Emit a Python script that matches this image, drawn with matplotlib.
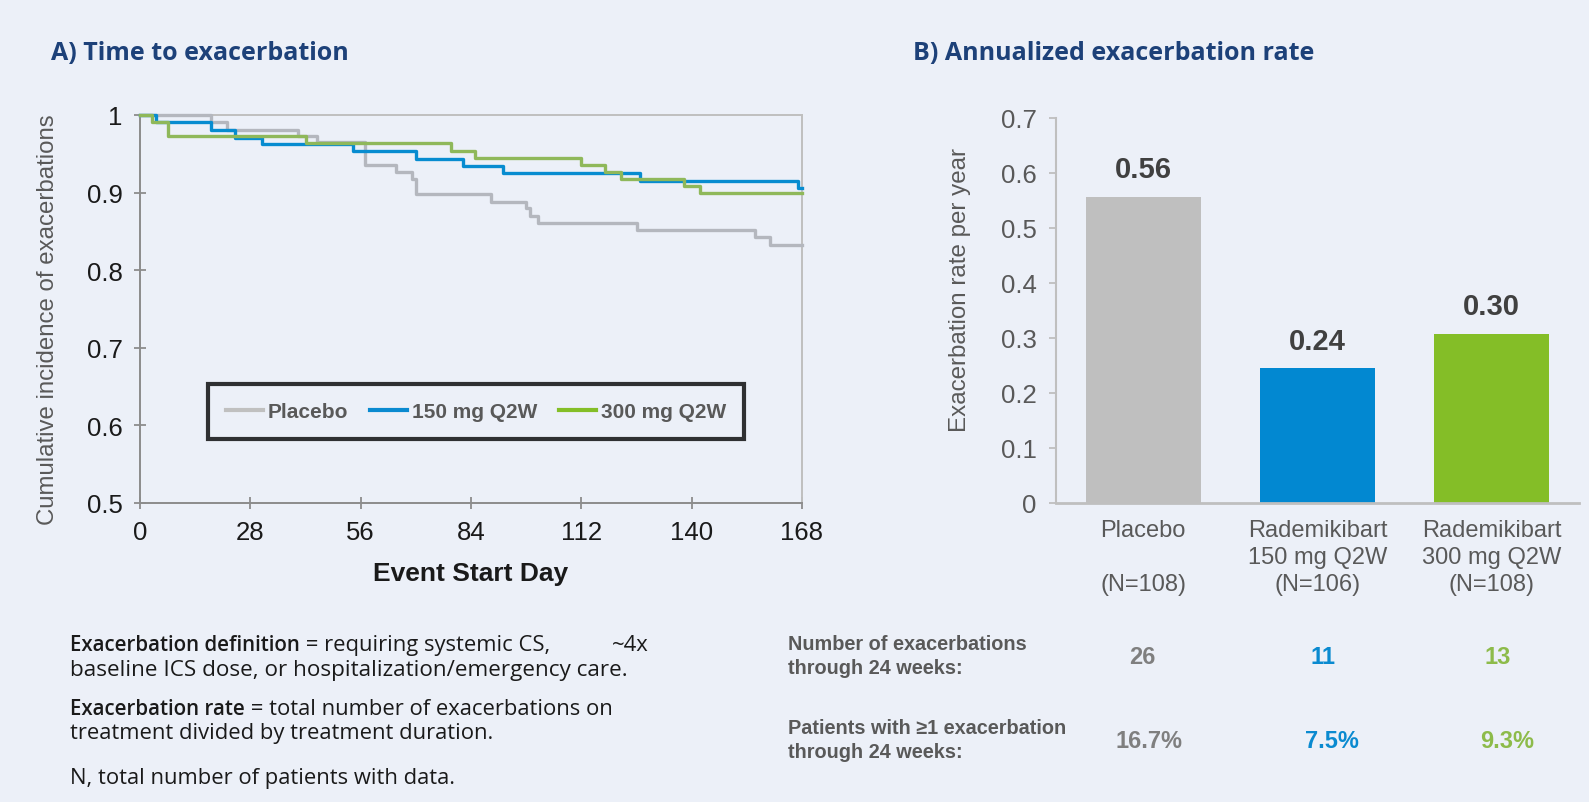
import matplotlib
matplotlib.use("Agg")
import matplotlib.pyplot as plt
from matplotlib.lines import Line2D

# ---------------- data ----------------
km_days_placebo = [0, 18, 22, 40, 45, 57, 65, 69, 70, 89, 98, 99, 101, 126, 156, 160, 168]
km_surv_placebo = [1.0, 0.991, 0.981, 0.973, 0.965, 0.935, 0.926, 0.918, 0.898, 0.888,
                   0.880, 0.870, 0.861, 0.852, 0.843, 0.833, 0.833]
km_days_150 = [0, 4, 18, 24, 31, 54, 70, 82, 92, 127, 167, 168]
km_surv_150 = [1.0, 0.991, 0.981, 0.971, 0.962, 0.953, 0.943, 0.934, 0.925, 0.915, 0.906, 0.906]
km_days_300 = [0, 3, 7, 42, 79, 85, 112, 118, 122, 138, 142, 168]
km_surv_300 = [1.0, 0.991, 0.973, 0.964, 0.954, 0.945, 0.936, 0.926, 0.917, 0.908, 0.899, 0.899]

km_series = ["Placebo", "150 mg Q2W", "300 mg Q2W"]
x_ticks = [0, 28, 56, 84, 112, 140, 168]
y_ticks = [0.5, 0.6, 0.7, 0.8, 0.9, 1.0]
y_tick_labels = ["0.5", "0.6", "0.7", "0.8", "0.9", "1"]

bar_categories = ["Placebo\n\n(N=108)", "Rademikibart\n150 mg Q2W\n(N=106)", "Rademikibart\n300 mg Q2W\n(N=108)"]
bar_rates = [0.556, 0.244, 0.307]
bar_rate_labels = ["0.56", "0.24", "0.30"]
bar_y_ticks = [0, 0.1, 0.2, 0.3, 0.4, 0.5, 0.6, 0.7]
bar_y_tick_labels = ["0", "0.1", "0.2", "0.3", "0.4", "0.5", "0.6", "0.7"]

n_exacerbations = [26, 11, 13]
pct_patients = [16.7, 7.5, 9.3]

# ---------------- style ----------------
W, H = 1589, 803
BG = "#ECF0F8"
KM_COLORS = ["#B4B7BE", "#078CD0", "#8FB85A"]
LEG_COLORS = ["#C0C0C0", "#0A8AD0", "#84BE27"]
BAR_COLORS = ["#BFBFBF", "#0288D1", "#84BE27"]
TABLE_COLORS = ["#7F7F7F", "#0A8AD0", "#8DBB4A"]
TITLE_BLUE = "#1D4179"
GRAY_TXT = "#595959"
ARIAL = "Liberation Sans"
POP = "Open Sans"

fig = plt.figure(figsize=(W / 100, H / 100), dpi=100)
fig.patch.set_facecolor(BG)


def fx(x):
    return x / W


def fy(y):
    return 1 - y / H


# ---------------- A) KM plot ----------------
ax1 = fig.add_axes([fx(140), fy(504), 662 / W, 388 / H])
ax1.set_facecolor(BG)
for days, surv, c in zip([km_days_placebo, km_days_150, km_days_300],
                         [km_surv_placebo, km_surv_150, km_surv_300], KM_COLORS):
    ax1.step(days, surv, where="post", color=c, lw=2.4, clip_on=False, zorder=3)
ax1.set_xlim(0, 168)
ax1.set_ylim(0.5, 1.0)
ax1.set_xticks(x_ticks)
ax1.set_xticklabels([str(t) for t in x_ticks])
ax1.set_yticks(y_ticks)
ax1.set_yticklabels(y_tick_labels)
for s in ["left", "bottom"]:
    ax1.spines[s].set_color("#8C8C8C")
    ax1.spines[s].set_linewidth(1.4)
for s in ["top", "right"]:
    ax1.spines[s].set_color("#BFBFBF")
    ax1.spines[s].set_linewidth(1.4)
ax1.tick_params(direction="inout", length=9, width=1.3, color="#8C8C8C",
                labelsize=18.5, labelcolor="#1A1A1A", pad=8)
for lab in ax1.get_xticklabels() + ax1.get_yticklabels():
    lab.set_fontfamily(ARIAL)

handles = [Line2D([0], [0], color=c, lw=3) for c in LEG_COLORS]
leg = ax1.legend(handles, km_series, loc="center", bbox_to_anchor=(0.5076, 0.236),
                 ncol=3, frameon=True, fancybox=False, handlelength=1.75,
                 handletextpad=0.25, columnspacing=1.05, borderpad=0.85,
                 prop={"family": ARIAL, "weight": "bold", "size": 15})
leg.get_frame().set_edgecolor("black")
leg.get_frame().set_linewidth(3)
leg.get_frame().set_facecolor(BG)
for t in leg.get_texts():
    t.set_color(GRAY_TXT)

fig.text(fx(471), fy(574), "Event Start Day", ha="center", va="center",
         fontsize=19, fontweight="bold", family=ARIAL, color="#1A1A1A")
fig.text(fx(48), fy(320), "Cumulative incidence of exacerbations", rotation=90,
         ha="center", va="center", fontsize=17.3, family=ARIAL, color=GRAY_TXT)

# ---------------- B) bar chart ----------------
ax2 = fig.add_axes([fx(1056), fy(503.5), 523 / W, 384.5 / H])
ax2.set_facecolor(BG)
xs = list(range(len(bar_rates)))
bars = ax2.bar(xs, bar_rates, width=0.66, color=BAR_COLORS, zorder=2)
ax2.set_xlim(-0.5, 2.5)
ax2.set_ylim(0, 0.7)
ax2.set_yticks(bar_y_ticks)
ax2.set_yticklabels(bar_y_tick_labels)
ax2.set_xticks(xs)
ax2.set_xticklabels(bar_categories, linespacing=1.3)
for s in ["top", "right"]:
    ax2.spines[s].set_visible(False)
ax2.spines["left"].set_color("#BFBFBF")
ax2.spines["left"].set_linewidth(1.5)
ax2.spines["bottom"].set_color("#BFBFBF")
ax2.spines["bottom"].set_linewidth(2)
ax2.tick_params(axis="y", direction="out", length=5, width=1.3, color="#BFBFBF",
                labelsize=18.5, labelcolor=GRAY_TXT, pad=9)
ax2.tick_params(axis="x", length=0, labelsize=17, labelcolor=GRAY_TXT, pad=12)
for lab in ax2.get_xticklabels() + ax2.get_yticklabels():
    lab.set_fontfamily(ARIAL)
for x, v, lab in zip(xs, bar_rates, bar_rate_labels):
    ax2.annotate(lab, (x, v), xytext=(0, 20), textcoords="offset points",
                 ha="center", va="center", fontsize=21, fontweight="bold",
                 family=ARIAL, color="#404040")
fig.text(fx(960), fy(290), "Exacerbation rate per year", rotation=90,
         ha="center", va="center", fontsize=17.4, family=ARIAL, color=GRAY_TXT)

# ---------------- titles ----------------
fig.text(fx(51), fy(53), "A) Time to exacerbation", ha="left", va="center",
         fontsize=18, fontweight="bold", family=POP, color=TITLE_BLUE)
fig.text(fx(913), fy(53), "B) Annualized exacerbation rate", ha="left", va="center",
         fontsize=18, fontweight="bold", family=POP, color=TITLE_BLUE)

# ---------------- notes ----------------
renderer = fig.canvas.get_renderer()


def rich(x, y, parts):
    for s, w, size in parts:
        t = fig.text(fx(x), fy(y), s, ha="left", va="baseline", fontsize=size,
                     fontweight=w, family=POP, color="#1A1A1A")
        x += t.get_window_extent(renderer).width


rich(70, 651.5, [("Exacerbation definition", "semibold", 14.8),
                 (" = requiring systemic CS,", "normal", 15.8)])
rich(612, 651.5, [("~4x", "normal", 15.8)])
rich(70, 676, [("baseline ICS dose, or hospitalization/emergency care.", "normal", 16.2)])
rich(70, 715, [("Exacerbation rate", "semibold", 14.8),
               (" = total number of exacerbations on", "normal", 15.8)])
rich(70, 739, [("treatment divided by treatment duration.", "normal", 15.8)])
rich(70, 784, [("N, total number of patients with data.", "normal", 15.8)])

# ---------------- table ----------------
row_label_lines = [("Number of exacerbations", 644.5), ("through 24 weeks:", 669),
                   ("Patients with \u22651 exacerbation", 728.6), ("through 24 weeks:", 753)]
for s, y in row_label_lines:
    fig.text(fx(788), fy(y), s, ha="left", va="center", fontsize=14.3,
             fontweight="bold", family=ARIAL, color=GRAY_TXT)
row1_x = [1142, 1323.5, 1498]
row2_x = [1149, 1332, 1507]
for x, n, c in zip(row1_x, n_exacerbations, TABLE_COLORS):
    fig.text(fx(x), fy(658), f"{n}", ha="center", va="center", fontsize=17,
             fontweight="bold", family=ARIAL, color=c)
for x, p, c in zip(row2_x, pct_patients, TABLE_COLORS):
    fig.text(fx(x), fy(742), f"{p:.1f}%", ha="center", va="center", fontsize=17,
             fontweight="bold", family=ARIAL, color=c)

fig.savefig("out.png", dpi=100, facecolor=BG)
